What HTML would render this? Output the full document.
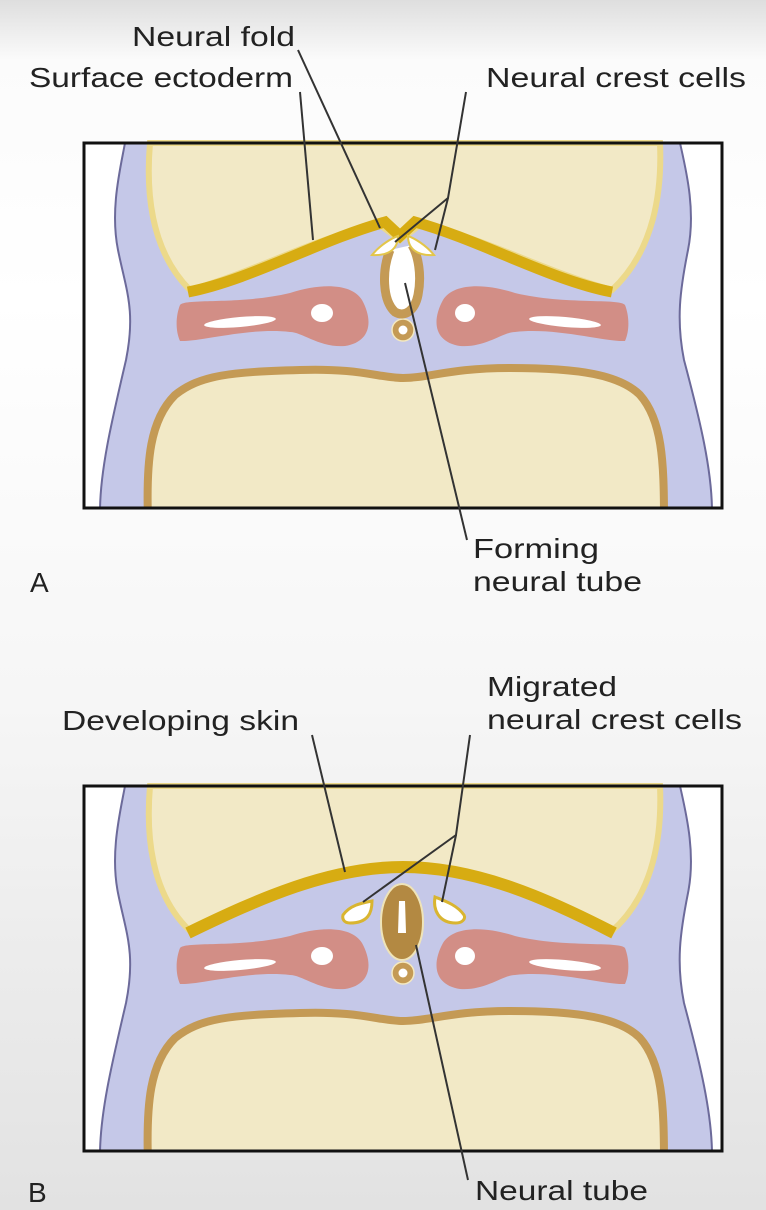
<!DOCTYPE html>
<html><head><meta charset="utf-8"><style>
html,body{margin:0;padding:0;width:766px;height:1210px;overflow:hidden}
body{background:linear-gradient(to bottom,#dedede 0px,#fbfbfb 60px,#ffffff 300px,#f6f6f6 700px,#e2e2e2 1210px)}
text{font-family:"Liberation Sans",sans-serif;font-size:28px;fill:#222}
</style></head><body>
<svg width="766" height="1210" viewBox="0 0 766 1210" xmlns="http://www.w3.org/2000/svg">
<defs>
<clipPath id="box"><rect x="84" y="143" width="638" height="365"/></clipPath>
<g id="base">
  <rect x="84" y="143" width="638" height="365" fill="#fff"/>
  <g clip-path="url(#box)">
  <path d="M125 143 C120 170 110 210 118 250 C126 290 136 310 126 360 C112 420 100 470 100 512 L712 512 C712 470 700 420 684 360 C676 320 680 290 688 250 C696 210 686 170 680 143 Z" fill="#c5c8e8" stroke="#6c6a9a" stroke-width="2"/>
  <path d="M148 520 C146 460 150 420 175 395 C200 375 230 372 300 370 C360 368 380 378 403 378 C430 378 450 368 510 368 C580 368 620 375 640 395 C662 420 664 460 664 520 Z" fill="#f2e9c6" stroke="#c49a55" stroke-width="8"/>
  </g>
  <path d="M180 305 C185 298 240 305 290 293 C320 283 352 283 362 300 C374 322 370 342 345 346 C320 348 302 332 290 332 C250 327 200 342 180 341 C175 330 176 315 180 305 Z" fill="#d28e86"/>
  <path d="M625 305 C620 298 565 305 515 293 C485 283 453 283 443 300 C431 322 435 342 460 346 C485 348 503 332 515 332 C555 327 605 342 625 341 C630 330 629 315 625 305 Z" fill="#d28e86"/>
  <ellipse cx="240" cy="322" rx="36" ry="5" transform="rotate(-5 240 322)" fill="#fff"/>
  <ellipse cx="322" cy="313" rx="11" ry="9" fill="#fff"/>
  <ellipse cx="565" cy="322" rx="36" ry="5" transform="rotate(5 565 322)" fill="#fff"/>
  <ellipse cx="465" cy="313" rx="10" ry="9" fill="#fff"/>
  <circle cx="403" cy="330" r="11" fill="#c49a55" stroke="#f4e9c0" stroke-width="1.5"/>
  <circle cx="403" cy="330" r="4.5" fill="#fff"/>
</g>
</defs>

<use href="#base"/>
<path d="M150 143 C146 190 150 250 190 290 C260 270 320 235 380 225 L400 240 L420 225 C480 235 540 270 612 290 C655 250 662 190 660 143 Z" fill="#f2e9c6" stroke="#ecd98a" stroke-width="6"/>
<path d="M188 292 C250 280 320 240 385 222 L400 236 L415 222 C480 240 550 280 612 292" fill="none" stroke="#d7ac12" stroke-width="11"/>
<path d="M390 250 C382 270 382 300 395 312 C405 318 415 310 418 295 C422 275 418 255 412 245" fill="#fff" stroke="#c49a55" stroke-width="9"/>
<path d="M372 255 C380 245 392 238 398 236 C398 248 390 256 372 255 Z" fill="#fff" stroke="#e3c64a" stroke-width="2"/>
<path d="M434 255 C426 245 414 238 408 236 C408 248 416 256 434 255 Z" fill="#fff" stroke="#e3c64a" stroke-width="2"/>
<rect x="84" y="143" width="638" height="365" fill="none" stroke="#111" stroke-width="3"/>
<g stroke="#333" stroke-width="2" fill="none">
<line x1="300" y1="92" x2="313" y2="240"/>
<line x1="298" y1="50" x2="380" y2="228"/>
<polyline points="466,92 448,198 395,242"/>
<line x1="448" y1="198" x2="435" y2="250"/>
<line x1="405" y1="283" x2="467" y2="540"/>
</g>
<text x="132" y="46" textLength="163" lengthAdjust="spacingAndGlyphs">Neural fold</text>
<text x="29" y="87" textLength="264" lengthAdjust="spacingAndGlyphs">Surface ectoderm</text>
<text x="486" y="87" textLength="260" lengthAdjust="spacingAndGlyphs">Neural crest cells</text>
<text x="473" y="558" textLength="126" lengthAdjust="spacingAndGlyphs">Forming</text>
<text x="473" y="591" textLength="169" lengthAdjust="spacingAndGlyphs">neural tube</text>
<text x="30" y="592">A</text>

<g transform="translate(0,643)">
<use href="#base"/>
<path d="M150 143 C146 190 150 250 190 288 C260 255 330 222 403 222 C476 222 546 255 612 288 C655 250 662 190 660 143 Z" fill="#f2e9c6" stroke="#ecd98a" stroke-width="6"/>
<path d="M188 290 C260 255 330 224 403 224 C476 224 546 255 614 290" fill="none" stroke="#d7ac12" stroke-width="12"/>
<ellipse cx="402" cy="279" rx="21" ry="38" fill="#b38942" stroke="#efe4b8" stroke-width="2"/>
<path d="M399 258 L405 258 L406 290 L398 290 Z" fill="#fff"/>
<path d="M343 272 C350 262 362 260 372 258 C372 270 368 280 350 280 C344 280 342 276 343 272 Z" fill="#fff" stroke="#d9b530" stroke-width="3"/>
<path d="M464 272 C457 262 445 258 435 254 C433 266 438 280 456 280 C462 280 466 276 464 272 Z" fill="#fff" stroke="#d9b530" stroke-width="3"/>
<rect x="84" y="143" width="638" height="365" fill="none" stroke="#111" stroke-width="3"/>
</g>
<g stroke="#333" stroke-width="2" fill="none">
<line x1="312" y1="735" x2="345" y2="872"/>
<polyline points="470,735 456,835 363,902"/>
<line x1="456" y1="835" x2="442" y2="902"/>
<line x1="416" y1="945" x2="468" y2="1180"/>
</g>
<text x="62" y="730" textLength="237" lengthAdjust="spacingAndGlyphs">Developing skin</text>
<text x="487" y="696" textLength="130" lengthAdjust="spacingAndGlyphs">Migrated</text>
<text x="487" y="729" textLength="255" lengthAdjust="spacingAndGlyphs">neural crest cells</text>
<text x="475" y="1200" textLength="173" lengthAdjust="spacingAndGlyphs">Neural tube</text>
<text x="28" y="1202">B</text>
</svg>
</body></html>
